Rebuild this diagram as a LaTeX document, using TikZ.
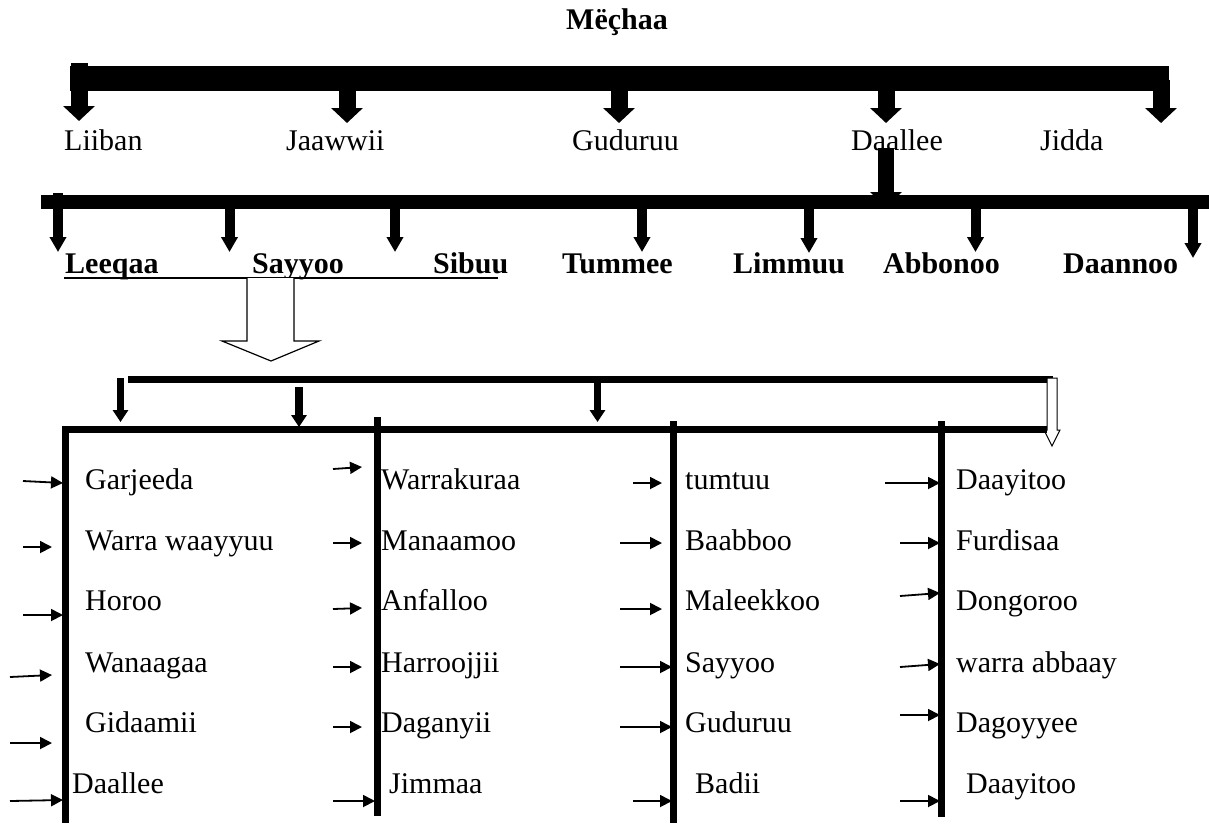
\documentclass[tikz,border=0pt]{standalone}
\usepackage{fontspec}
\setmainfont{Liberation Serif}
\usetikzlibrary{arrows.meta}
\tikzset{
  lbl/.style={anchor=base west, inner sep=0pt, font=\fontsize{30}{36}\selectfont},
  blbl/.style={anchor=base west, inner sep=0pt, font=\fontsize{30}{36}\selectfont\bfseries},
  bigarr/.style={line width=17pt, -{Triangle[length=15pt,width=31pt]}},
  midarr/.style={line width=10pt, -{Triangle[length=15pt,width=16pt]}},
  smarr/.style={line width=7.5pt, -{Triangle[length=12pt,width=15pt]}},
  tinyarr/.style={line width=1.8pt, -{Triangle[length=12pt,width=12pt]}},
  vline/.style={line width=7pt},
  hollow/.style={draw=black, fill=white, line width=1.2pt, line join=miter},
}
\begin{document}
\begin{tikzpicture}[x=1pt,y=-1pt]
\useasboundingbox (0,0) rectangle (1209,823);

% title
\node[blbl, anchor=base] (title) at (617,29) {Mëçhaa};

% top bar and arrows
\fill (70,66) rectangle (1169,91);
\coordinate (b1a) at (79,63);   \coordinate (b1b) at (347,80);
\coordinate (b1c) at (619,80);  \coordinate (b1d) at (886,80);
\coordinate (b1e) at (1161,80);
\draw[bigarr] (b1a) -- (79,121);
\draw[bigarr] (b1b) -- (347,123);
\draw[bigarr] (b1c) -- (619,123);
\draw[bigarr] (b1d) -- (886,123);
\draw[bigarr] (b1e) -- (1161,123);

\node[lbl] (liiban)  at (64,150)  {Liiban};
\node[lbl] (jaawwii) at (286,150) {Jaawwii};
\node[lbl] (guduruu) at (572,150) {Guduruu};
\node[lbl] (daallee) at (851,150) {Daallee};
\node[lbl] (jidda)   at (1040,150) {Jidda};

% second bar
\fill (41,195) rectangle (1209,209);
\draw[bigarr, line width=16pt] (886,148) -- (886,207);

\draw[midarr] (58,193) -- (58,252);
\draw[midarr] (229.5,200) -- (229.5,252);
\draw[midarr] (395,200) -- (395,252);
\draw[midarr] (642,200) -- (642,252);
\draw[midarr] (809,200) -- (809,253);
\draw[midarr] (975.5,200) -- (975.5,252);
\draw[midarr] (1193,200) -- (1193,258);

\node[blbl] (leeqaa)  at (65,273)  {Leeqaa};
\node[blbl] (sayyoo)  at (252,273) {Sayyoo};
\node[blbl] (sibuu)   at (433,273) {Sibuu};
\node[blbl] (tummee)  at (562,273) {Tummee};
\node[blbl] (limmuu)  at (733,273) {Limmuu};
\node[blbl] (abbonoo) at (883,273) {Abbonoo};
\node[blbl] (daannoo) at (1063,273) {Daannoo};

\draw[line width=1.5pt] (64,278) -- (498,278);

% hollow arrow
\filldraw[hollow] (247,278) -- (247,341) -- (222,341) -- (271,361) -- (319,341) -- (294,341) -- (294,278);

% third bar
\fill (128,376) rectangle (1053,383);
\draw[smarr] (120.5,378) -- (120.5,422);
\draw[smarr] (299,387) -- (299,427);
\draw[smarr] (597.5,376) -- (597.5,422);
\filldraw[hollow, line width=1pt] (1047,378) -- (1047,430) -- (1044,430) -- (1052,446) -- (1060,430) -- (1057,430) -- (1057,378) -- cycle;

% fourth bar and columns
\fill (65,426) rectangle (1047,433);
\draw[vline] (65,426) -- (65,823);
\draw[vline] (377,417) -- (377,816);
\draw[vline] (673.5,421) -- (673.5,823);
\draw[vline] (941.5,421) -- (941.5,817);

% column 1
\node[lbl] (c1a) at (85,489) {Garjeeda};
\node[lbl] (c1b) at (85,550) {Warra waayyuu};
\node[lbl] (c1c) at (85,610) {Horoo};
\node[lbl] (c1d) at (85,672) {Wanaagaa};
\node[lbl] (c1e) at (85,732) {Gidaamii};
\node[lbl] (c1f) at (72,793) {Daallee};
\draw[tinyarr] (23,481) -- (63,483);
\draw[tinyarr] (23,547) -- (52,547);
\draw[tinyarr] (23,615) -- (63,615);
\draw[tinyarr] (10,677) -- (52,675);
\draw[tinyarr] (10,743) -- (52,743);
\draw[tinyarr] (10,801) -- (63,800);

% column 2
\node[lbl] (c2a) at (381,489) {Warrakuraa};
\node[lbl] (c2b) at (381,550) {Manaamoo};
\node[lbl] (c2c) at (381,610) {Anfalloo};
\node[lbl] (c2d) at (381,672) {Harroojjii};
\node[lbl] (c2e) at (381,732) {Daganyii};
\node[lbl] (c2f) at (389,793) {Jimmaa};
\draw[tinyarr] (333,469) -- (362,467);
\draw[tinyarr] (333,543) -- (362,543);
\draw[tinyarr] (333,609) -- (362,608);
\draw[tinyarr] (333,667) -- (362,667);
\draw[tinyarr] (333,727) -- (362,727);
\draw[tinyarr] (333,801) -- (375,801);

% column 3
\node[lbl] (c3a) at (685,489) {tumtuu};
\node[lbl] (c3b) at (685,550) {Baabboo};
\node[lbl] (c3c) at (685,610) {Maleekkoo};
\node[lbl] (c3d) at (685,672) {Sayyoo};
\node[lbl] (c3e) at (685,732) {Guduruu};
\node[lbl] (c3f) at (695,793) {Badii};
\draw[tinyarr] (633,483) -- (662,483);
\draw[tinyarr] (620,543) -- (662,543);
\draw[tinyarr] (620,609) -- (662,609);
\draw[tinyarr] (620,667) -- (672,667);
\draw[tinyarr] (620,727) -- (672,727);
\draw[tinyarr] (633,801) -- (672,801);

% column 4
\node[lbl] (c4a) at (956,489) {Daayitoo};
\node[lbl] (c4b) at (956,550) {Furdisaa};
\node[lbl] (c4c) at (956,610) {Dongoroo};
\node[lbl] (c4d) at (956,672) {warra abbaay};
\node[lbl] (c4e) at (956,732) {Dagoyyee};
\node[lbl] (c4f) at (966,793) {Daayitoo};
\draw[tinyarr] (885,483) -- (940,483);
\draw[tinyarr] (900,543) -- (940,543);
\draw[tinyarr] (900,596) -- (940,593);
\draw[tinyarr] (900,667) -- (940,664);
\draw[tinyarr] (900,715) -- (940,715);
\draw[tinyarr] (900,801) -- (940,801);
\end{tikzpicture}
\end{document}
